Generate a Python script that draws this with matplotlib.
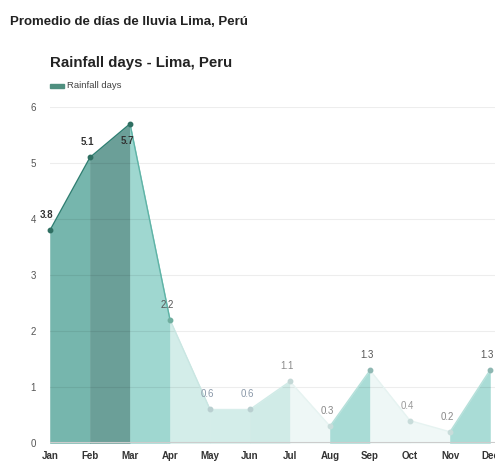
import matplotlib
matplotlib.use("Agg")
import matplotlib.pyplot as plt
import numpy as np

plt.rcParams["font.family"] = ["Liberation Sans", "DejaVu Sans"]

months = ["Jan", "Feb", "Mar", "Apr", "May", "Jun", "Jul", "Aug", "Sep", "Oct", "Nov", "Dec"]
rain_days = [3.8, 5.1, 5.7, 2.2, 0.6, 0.6, 1.1, 0.3, 1.3, 0.4, 0.2, 1.3]
label_text = ["3.8", "5.1", "5.7", "2.2", "0.6", "0.6", "1.1", "0.3", "1.3", "0.4", "0.2", "1.3"]
y_ticks = [0, 1, 2, 3, 4, 5, 6]

# segment fill colours (segment i spans month i -> i+1)
seg_colors = ["#76b6ad", "#6b9f98", "#9fd7d0", "#d3ede9", "#d3ede9", "#d0ebe7",
              "#eef7f6", "#a9dcd6", "#eef7f6", "#f0f8f7", "#a9dcd6"]
line_colors = ["#2f7f72", "#2f7f72", "#5fb3a6", "#c9e6e2", "#d8eeeb", "#d0ebe7",
               "#e6f3f1", "#b5e0da", "#e6f3f1", "#e6f3f1", "#b5e0da"]
marker_colors = ["#2f6f62", "#2f6f62", "#2f6f62", "#6fae9f", "#b9cfd0", "#b9cfd0",
                 "#c4d8d6", "#c8dcda", "#8fb8b3", "#c8dcda", "#c8dcda", "#8fb8b3"]
label_colors = ["#333333", "#333333", "#333333", "#555555", "#8a98a8", "#8a98a8",
                "#8a8a8a", "#888888", "#555555", "#999999", "#888888", "#555555"]

W, H = 495, 461
fig = plt.figure(figsize=(W / 100, H / 100), dpi=100)
fig.patch.set_facecolor("white")

left_px, right_px = 50, 495
bottom_px, top_px = 443, 107
ax = fig.add_axes([left_px / W, 1 - bottom_px / H, (right_px - left_px) / W, (bottom_px - top_px) / H])
x = np.arange(len(months))
ax.set_xlim(0, 11 * (right_px - left_px) / 440)
ax.set_ylim(0, 6)

for i in range(len(months) - 1):
    xs = x[i:i + 2]
    ys = rain_days[i:i + 2]
    ax.fill_between(xs, 0, ys, facecolor=seg_colors[i], edgecolor=seg_colors[i],
                    linewidth=0.4, zorder=1)
    ax.plot(xs, ys, color=line_colors[i], linewidth=1.0, zorder=3)

for i, v in enumerate(rain_days):
    ax.plot(x[i], v, "o", color=marker_colors[i], markersize=3.2, zorder=4, clip_on=False)
    dy = -17 if i == 2 else 15
    ax.annotate(label_text[i], (x[i], v), xytext=(-3, dy), textcoords="offset pixels",
                ha="center", va="center", fontsize=7, color=label_colors[i],
                fontweight="bold" if i < 3 else "normal", zorder=5, annotation_clip=False)

for t in y_ticks[1:]:
    ax.axhline(t, color="#000000", alpha=0.07, linewidth=0.8, zorder=2)
ax.axhline(0, color="#cccccc", linewidth=1.5, zorder=2)

for s in ax.spines.values():
    s.set_visible(False)
ax.set_yticks(y_ticks)
ax.set_yticklabels([str(t) for t in y_ticks], fontsize=7, color="#555555")
ax.set_xticks(x)
ax.set_xticklabels(months, fontsize=7, color="#333333", fontweight="bold")
ax.tick_params(axis="both", length=0)
ax.tick_params(axis="y", pad=10)
ax.tick_params(axis="x", pad=6)

fig.text(10 / W, 1 - 22 / H, "Promedio de días de lluvia Lima, Perú", fontsize=9.5,
         fontweight="bold", color="#222222", ha="left", va="center")
fig.text(50 / W, 1 - 63 / H, "Rainfall days - Lima, Peru", fontsize=10.8,
         fontweight="bold", color="#222222", ha="left", va="center")
fig.patches.append(matplotlib.patches.Rectangle((50 / W, 1 - 88 / H), 14 / W, 4 / H,
                                                transform=fig.transFigure, color="#4f8f7f"))
fig.text(67 / W, 1 - 86 / H, "Rainfall days", fontsize=6.8, color="#444444",
         ha="left", va="center")

fig.savefig("out.png", dpi=100)
